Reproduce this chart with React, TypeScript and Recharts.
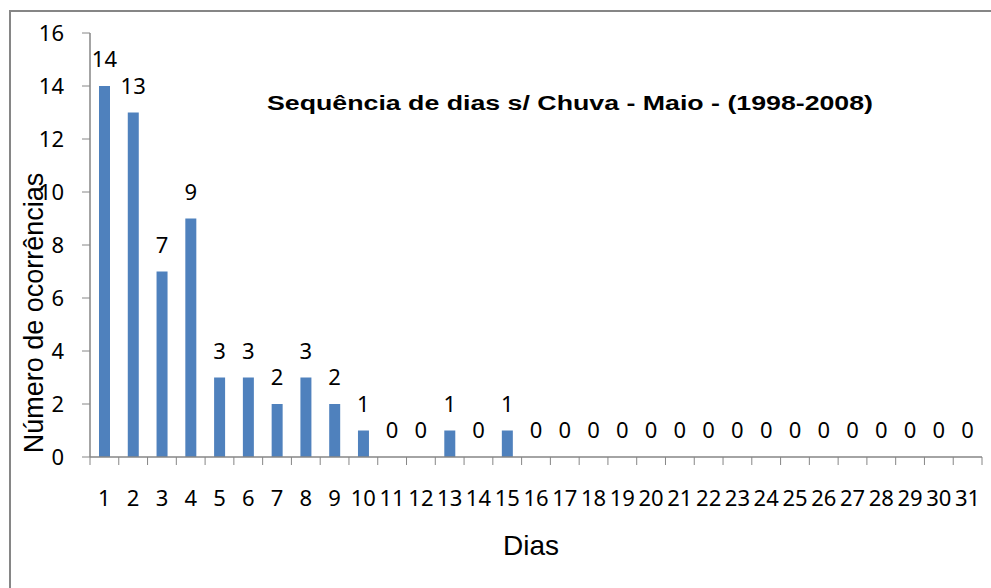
import React from 'react';
import { ComposedChart, Bar, Line, XAxis, YAxis, LabelList, Customized } from 'recharts';

const days: string[] = ['1','2','3','4','5','6','7','8','9','10','11','12','13','14','15','16','17','18','19','20','21','22','23','24','25','26','27','28','29','30','31'];
const occurrences: number[] = [14,13,7,9,3,3,2,3,2,1,0,0,1,0,1,0,0,0,0,0,0,0,0,0,0,0,0,0,0,0,0];
const yTicks: number[] = [0,2,4,6,8,10,12,14,16];
const title = 'Sequência de dias s/ Chuva - Maio - (1998-2008)';
const yTitle = 'Número de ocorrências';
const xTitle = 'Dias';

const data = days.map((d, i) => ({ dia: d, v: occurrences[i] }));

const W = 991;
const H = 588;
const M = { top: 33, right: 9, left: 30, bottom: 21 };
const Y_W = 60;
const X_H = 110;
const STEP = (W - M.left - M.right - Y_W) / days.length;
const AXIS = '#868686';
const TICK_FONT = '"Noto Sans", sans-serif';
const NUM_SIZE = 22;

const XTick = (props: any) => {
  const { x, y, payload, index } = props;
  const last = index === days.length - 1;
  return (
    <g>
      <line x1={x - STEP / 2} x2={x - STEP / 2} y1={y} y2={y + 8} stroke={AXIS} strokeWidth={1} />
      {last && <line x1={x + STEP / 2} x2={x + STEP / 2} y1={y} y2={y + 8} stroke={AXIS} strokeWidth={1} />}
      <text x={x} y={y + 49} textAnchor="middle" fontFamily={TICK_FONT} fontSize={NUM_SIZE} fill="#000">
        {payload.value}
      </text>
    </g>
  );
};

const YTitle = () => {
  const cx = 34;
  const cy = 313;
  return (
    <text
      x={cx}
      y={cy}
      transform={`rotate(-90 ${cx} ${cy})`}
      textAnchor="middle"
      dominantBaseline="central"
      fontFamily='"Liberation Sans", Arial, sans-serif'
      fontSize={27}
      fill="#000"
    >
      {yTitle}
    </text>
  );
};

const XTitle = () => (
  <text
    x={531}
    y={555}
    textAnchor="middle"
    fontFamily='"Liberation Sans", Arial, sans-serif'
    fontSize={28}
    fill="#000"
  >
    {xTitle}
  </text>
);

const Title = () => (
  <text
    x={570}
    y={110}
    textAnchor="middle"
    fontFamily='"Liberation Sans", Arial, sans-serif'
    fontWeight="bold"
    fontSize={20}
    textLength={606}
    lengthAdjust="spacingAndGlyphs"
    fill="#000"
  >
    {title}
  </text>
);

export default function App() {
  return (
    <div style={{ position: 'absolute', left: 0, top: 0, width: W, height: H, overflow: 'hidden', background: '#fff' }}>
      <div
        style={{
          position: 'absolute',
          left: 9,
          top: 10,
          width: 1100,
          height: 700,
          borderLeft: `2px solid ${AXIS}`,
          borderTop: `2px solid ${AXIS}`,
        }}
      />
      <div style={{ position: 'absolute', left: 0, top: 0 }}>
        <ComposedChart width={W} height={H} data={data} margin={M}>
          <XAxis
            dataKey="dia"
            height={X_H}
            interval={0}
            tickLine={false}
            tickSize={0}
            tickMargin={0}
            tick={<XTick />}
            axisLine={{ stroke: AXIS, strokeWidth: 1.5 }}
            label={<XTitle />}
          />
          <YAxis
            width={Y_W}
            domain={[0, 16]}
            ticks={yTicks}
            interval={0}
            tickSize={8}
            tickMargin={18}
            tick={{ fontFamily: TICK_FONT, fontSize: NUM_SIZE, fill: '#000' }}
            tickLine={{ stroke: AXIS }}
            axisLine={{ stroke: AXIS, strokeWidth: 1.5 }}
            label={<YTitle />}
          />
          <Bar dataKey="v" fill="#4F81BD" barSize={11} isAnimationActive={false} />
          <Line
            dataKey="v"
            stroke="none"
            dot={false}
            activeDot={false}
            legendType="none"
            isAnimationActive={false}
          >
            <LabelList dataKey="v" position="top" offset={19} fontFamily={TICK_FONT} fontSize={NUM_SIZE} fill="#000" />
          </Line>
          <Customized component={Title} />
        </ComposedChart>
      </div>
    </div>
  );
}
